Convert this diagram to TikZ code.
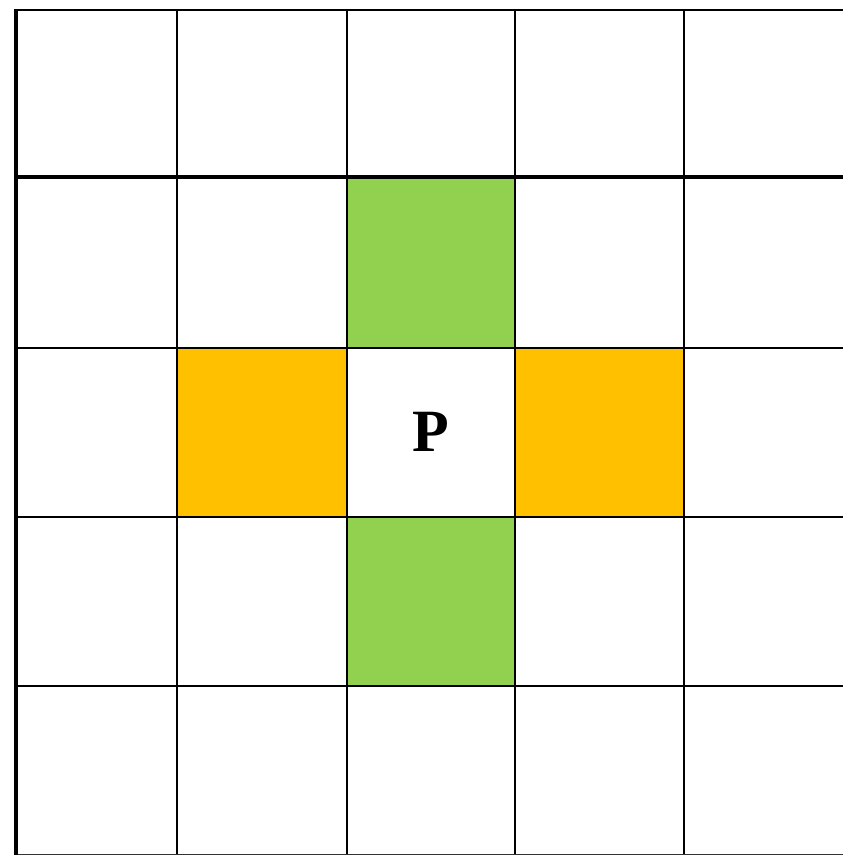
\documentclass[tikz,border=0pt]{standalone}
\usepackage{fontspec}
\setmainfont{Liberation Serif}
\usetikzlibrary{positioning}
\definecolor{cellGreen}{HTML}{92D050}
\definecolor{cellAmber}{HTML}{FFC000}
\begin{document}
\begin{tikzpicture}[x=1pt,y=-1pt,line width=2pt,
  gridline/.style={draw=black,line width=2pt},
  edgeline/.style={draw=black,line width=4pt}]
  \useasboundingbox (0,0) rectangle (843,855);
  \clip (0,0) rectangle (843,855);
  % coloured neighbours
  \fill[cellGreen] (347,177) rectangle (515,348);
  \fill[cellGreen] (347,517) rectangle (515,686);
  \fill[cellAmber] (177,348) rectangle (347,517);
  \fill[cellAmber] (515,348) rectangle (684,517);
  % grid
  \foreach \gx in {177,347,515,684}
    \draw[gridline] (\gx,10) -- (\gx,856);
  \foreach \gy in {348,517,686}
    \draw[gridline] (15,\gy) -- (844,\gy);
  \draw[gridline,line width=1.6pt,draw=black!80] (15,855) -- (844,855);
  \draw[gridline] (15,10) -- (844,10);
  \draw[edgeline] (15,177) -- (844,177);
  \draw[edgeline] (15.5,9) -- (15.5,856);
  % centre pixel
  \node[font=\fontsize{60}{60}\selectfont\bfseries] (p) at (431,432) {P};
\end{tikzpicture}
\end{document}
